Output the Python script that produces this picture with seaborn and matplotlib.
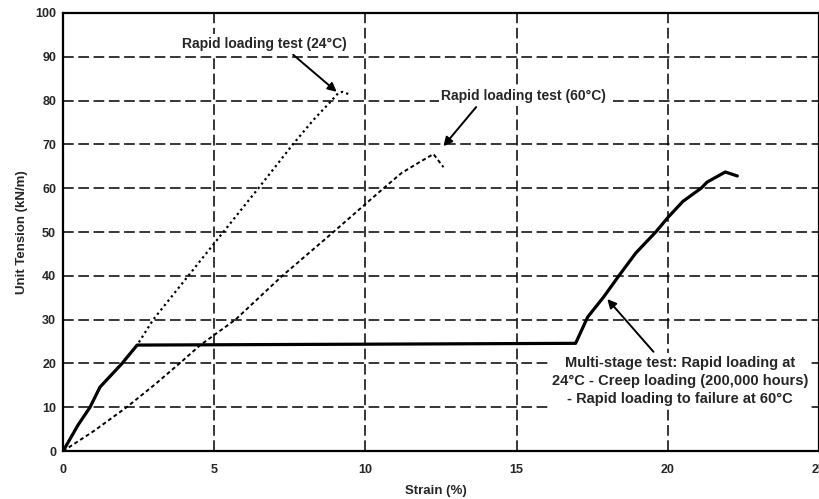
import matplotlib
matplotlib.use("Agg")
import matplotlib.pyplot as plt
import seaborn as sns
import pandas as pd

# Rapid loading test (24°C)
strain_24 = [0, 0.5, 0.89, 1.22, 1.95, 2.45, 2.98, 4.14, 5.3, 6.46, 7.6, 8.28, 8.84, 9.1, 9.24, 9.44]
tension_24 = [0, 6.0, 10.0, 14.6, 20.0, 24.2, 30.0, 40.0, 50.0, 60.0, 70.0, 75.6, 79.7, 81.7, 82.0, 81.5]

# Rapid loading test (60°C)
strain_60 = [0, 1.0, 2.1, 3.0, 3.85, 4.54, 5.7, 7.25, 8.94, 10.6, 11.2, 11.8, 12.25, 12.58]
tension_60 = [0, 4.5, 10.0, 15.0, 20.0, 24.2, 30.0, 40.0, 50.0, 60.0, 63.5, 66.0, 67.8, 64.8]

# Multi-stage test (24°C rapid loading, creep, 60°C rapid loading to failure)
strain_ms = [0, 0.5, 0.89, 1.22, 1.95, 2.45, 10.0, 16.95, 17.35, 17.88, 18.38, 18.94,
             19.6, 20.0, 20.5, 21.1, 21.3, 21.9, 22.3]
tension_ms = [0, 6.0, 10.0, 14.6, 20.0, 24.2, 24.4, 24.6, 30.6, 35.2, 40.0, 45.2,
              50.0, 53.3, 57.0, 60.0, 61.4, 63.7, 62.8]

x_ticks = [0, 5, 10, 15, 20, 25]
y_ticks = [0, 10, 20, 30, 40, 50, 60, 70, 80, 90, 100]

sns.set_style("white")
plt.rcParams['font.family'] = ['Liberation Sans', 'DejaVu Sans']
plt.rcParams['font.weight'] = 'bold'

fig = plt.figure(figsize=(8.19, 4.99), dpi=100)
ax = fig.add_axes([0.077, 0.096, 0.923, 0.878])

df24 = pd.DataFrame({"Strain": strain_24, "Tension": tension_24})
df60 = pd.DataFrame({"Strain": strain_60, "Tension": tension_60})
dfms = pd.DataFrame({"Strain": strain_ms, "Tension": tension_ms})

sns.lineplot(data=df24, x="Strain", y="Tension", ax=ax, color="black",
             linestyle=(0, (1, 1.5)), linewidth=1.6, sort=False, zorder=4)
sns.lineplot(data=df60, x="Strain", y="Tension", ax=ax, color="black",
             linestyle=(0, (2, 1.5)), linewidth=1.4, sort=False, zorder=4)
sns.lineplot(data=dfms, x="Strain", y="Tension", ax=ax, color="black",
             linestyle="-", linewidth=2.3, sort=False, zorder=4)

ax.set_xlim(0, 25)
ax.set_ylim(0, 100)
ax.set_xticks(x_ticks)
ax.set_yticks(y_ticks)
ax.set_xticklabels([str(t) for t in x_ticks], fontsize=9, fontweight='bold')
ax.set_yticklabels([str(t) for t in y_ticks], fontsize=9, fontweight='bold')
ax.tick_params(axis='x', length=0, pad=9)
ax.tick_params(axis='y', length=0, pad=5)
ax.grid(True, color="black", linestyle=(0, (7, 3)), linewidth=1.1)
for s in ax.spines.values():
    s.set_color("black")
    s.set_linewidth(1.6)

ax.set_xlabel("Strain (%)", fontsize=9.5, fontweight='bold')
ax.set_ylabel("Unit Tension (kN/m)", fontsize=9.5, fontweight='bold')
ax.xaxis.set_label_coords(0.493, -0.078)
ax.yaxis.set_label_coords(-0.047, 0.5)

box = dict(facecolor="white", edgecolor="none", pad=2)

ax.annotate("Rapid loading test (24°C)", xy=(9.05, 82.0), xytext=(6.65, 92.9),
            ha="center", va="center", fontsize=10, fontweight="bold", bbox=box,
            arrowprops=dict(arrowstyle="-|>", color="black", lw=1.4, mutation_scale=13,
                            shrinkA=1, shrinkB=0, relpos=(0.65, 0)), zorder=5)
ax.annotate("Rapid loading test (60°C)", xy=(12.58, 69.6), xytext=(15.24, 81.0),
            ha="center", va="center", fontsize=10, fontweight="bold", bbox=box,
            arrowprops=dict(arrowstyle="-|>", color="black", lw=1.4, mutation_scale=13,
                            shrinkA=1, shrinkB=0, relpos=(0.23, 0)), zorder=5)
ax.annotate("Multi-stage test: Rapid loading at\n24°C - Creep loading (200,000 hours)\n- Rapid loading to failure at 60°C",
            xy=(18.0, 34.7), xytext=(20.4, 16.0),
            ha="center", va="center", fontsize=10.5, fontweight="bold", linespacing=1.4,
            bbox=box,
            arrowprops=dict(arrowstyle="-|>", color="black", lw=1.4, mutation_scale=13,
                            shrinkA=1, shrinkB=0, relpos=(0.41, 1)), zorder=5)

fig.savefig("out.png", dpi=100)
